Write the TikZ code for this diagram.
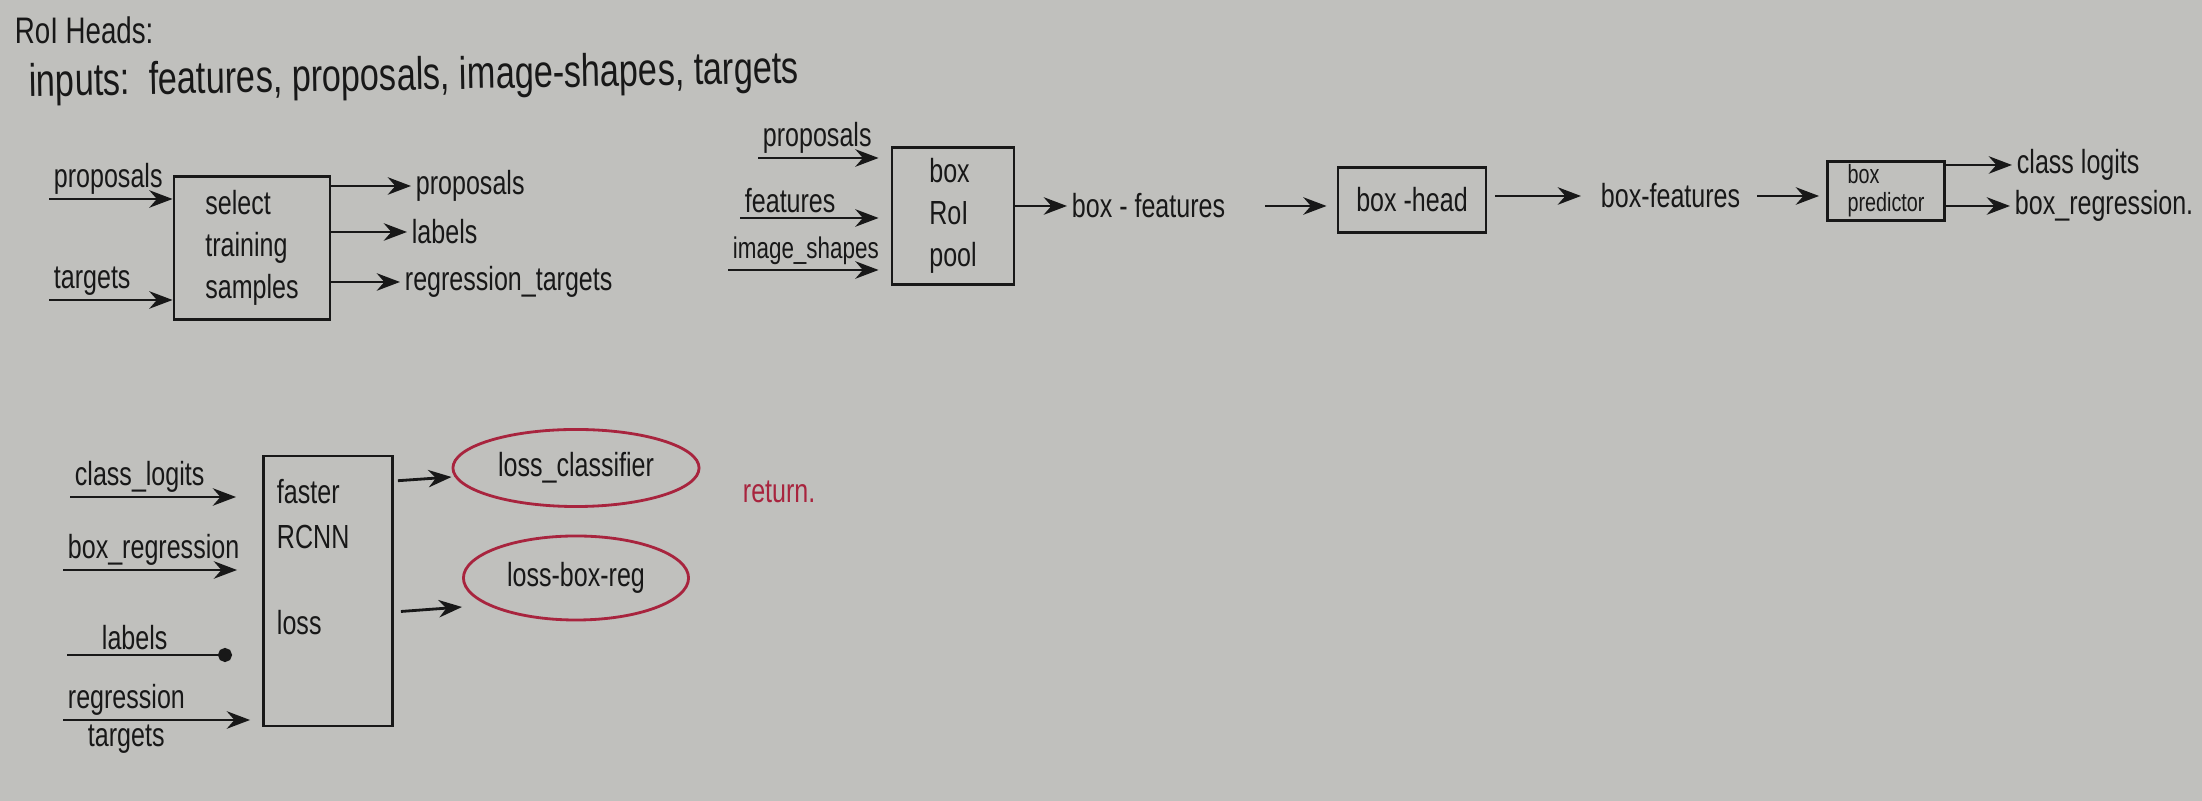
\documentclass[tikz,border=0pt]{standalone}
\usepackage{fontspec}
\setmainfont{Liberation Sans}[FakeStretch=0.75]
\usetikzlibrary{arrows.meta,shapes.geometric}

\definecolor{board}{RGB}{192,192,189}
\definecolor{ink}{RGB}{24,24,24}
\definecolor{inkred}{RGB}{168,36,62}

\tikzset{
    blk/.style={draw, thick, align=left, inner sep=3pt},
    lbl/.style={inner sep=1pt},
    lossbubble/.style={ellipse, draw=inkred, thick, text=ink, inner sep=0pt},
}

\begin{document}
\begin{tikzpicture}[x=0.01cm, y=-0.01cm, >=Stealth, thick, color=ink,
    font=\fontsize{9.5}{12}\selectfont]
    \fill[board] (0,0) rectangle (2202,801);
    \useasboundingbox (0,0) rectangle (2202,801);

    % heading
    \node[lbl, anchor=west, font=\fontsize{10.5}{13}\selectfont] (title) at (10,30) {RoI Heads:};
    \node[lbl, rotate=1, font=\fontsize{13}{15}\selectfont] (inputs) at (414,78)
        {inputs:\ \ features, proposals, image-shapes, targets};

    % select training samples
    \node[blk, minimum width=1.56cm, minimum height=1.43cm] (sel) at (252,248)
        {select\\training\\samples};
    \coordinate (sel-a) at (49,199);
    \coordinate (sel-b) at (49,300);
    \node[lbl, above right] (sel-prop) at (sel-a) {proposals};
    \node[lbl, above right] (sel-tgt) at (sel-b) {targets};
    \draw[->] (sel-a) -- (sel-a -| sel.west);
    \draw[->] (sel-b) -- (sel-b -| sel.west);
    \node[lbl, anchor=west] (out-prop) at (411,186) {proposals};
    \node[lbl, anchor=west] (out-lab) at (407,232) {labels};
    \node[lbl, anchor=west] (out-reg) at (400,282) {regression\_targets};
    \draw[->] (out-prop.west -| sel.east) -- (out-prop.west);
    \draw[->] (out-lab.west -| sel.east) -- (out-lab.west);
    \draw[->] (out-reg.west -| sel.east) -- (out-reg.west);

    % box roi pool
    \node[blk, minimum width=1.22cm, minimum height=1.37cm] (roi) at (953,216)
        {box\\RoI\\pool};
    \coordinate (roi-a) at (758,158);
    \coordinate (roi-b) at (740,218);
    \coordinate (roi-c) at (728,270);
    \node[lbl, above right] (roi-prop) at (roi-a) {proposals};
    \node[lbl, above right] (roi-feat) at (roi-b) {features};
    \node[lbl, above right, font=\fontsize{8.5}{10}\selectfont] (roi-img) at (roi-c) {image\_shapes};
    \draw[->, shorten >=0.12cm] (roi-a) -- (roi-a -| roi.west);
    \draw[->, shorten >=0.12cm] (roi-b) -- (roi-b -| roi.west);
    \draw[->, shorten >=0.12cm] (roi-c) -- (roi-c -| roi.west);
    \node[lbl, anchor=west] (feat1) at (1067,206) {box - features};
    \draw[->] (feat1.west -| roi.east) -- (feat1.west);

    % box head
    \node[blk, minimum width=1.48cm, minimum height=0.65cm] (head) at (1412,200) {box -head};
    \draw[->, shorten <=0.35cm, shorten >=0.1cm] (feat1.east) -- (feat1.east -| head.west);
    \node[lbl, anchor=west] (feat2) at (1596,196) {box-features};
    \draw[->, shorten <=0.08cm, shorten >=0.15cm] (head.east |- feat2.west) -- (feat2.west);

    % box predictor
    \node[blk, minimum width=1.17cm, minimum height=0.5cm, inner sep=1pt,
        font=\fontsize{7.5}{8}\selectfont] (pred) at (1886,191) {box\\predictor};
    \draw[->, shorten <=0.12cm, shorten >=0.07cm] (feat2.east) -- (feat2.east -| pred.west);
    \node[lbl, anchor=west] (cls) at (2012,165) {class logits};
    \node[lbl, anchor=west] (bxr) at (2010,206) {box\_regression.};
    \draw[->] (cls.west -| pred.east) -- (cls.west);
    \draw[->] (bxr.west -| pred.east) -- (bxr.west);

    % faster rcnn loss
    \node[blk, minimum width=1.29cm, minimum height=2.70cm] (loss) at (328,591) {};
    \node[lbl, anchor=north west, align=left, font=\fontsize{9.5}{12.8}\selectfont] (loss-txt)
        at ([xshift=0.1cm, yshift=-0.2cm]loss.north west) {faster\\RCNN\\[0.41cm]loss};
    \coordinate (loss-a) at (70,497);
    \coordinate (loss-b) at (63,570);
    \coordinate (loss-c) at (67,655);
    \coordinate (loss-d) at (63,720);
    \node[lbl, above right] (loss-cls) at (loss-a) {class\_logits};
    \node[lbl, above right] (loss-box) at (loss-b) {box\_regression};
    \node[lbl, above right, xshift=0.3cm] (loss-lab) at (loss-c) {labels};
    \node[lbl, above right] (loss-reg) at (loss-d) {regression};
    \node[lbl, below right, xshift=0.2cm] (loss-tgt) at (loss-d) {targets};
    \draw[->, shorten >=0.26cm] (loss-a) -- (loss-a -| loss.west);
    \draw[->, shorten >=0.25cm] (loss-b) -- (loss-b -| loss.west);
    \draw[-{Circle[length=4pt]}, shorten >=0.3cm] (loss-c) -- (loss-c -| loss.west);
    \draw[->, shorten >=0.12cm] (loss-d) -- (loss-d -| loss.west);

    \node[lossbubble, minimum width=2.46cm, minimum height=0.77cm] (lcls) at (576,468) {loss\_classifier};
    \node[lossbubble, minimum width=2.25cm, minimum height=0.84cm] (lbox) at (576,578) {loss-box-reg};
    \draw[->, shorten <=0.04cm] (loss.east |- 0,481) -- (lcls.west |- 0,477);
    \draw[->, shorten <=0.07cm] (loss.east |- 0,612) -- (lbox.west |- 0,607);

    \node[lbl, anchor=west, text=inkred] (ret) at (738,492) {return.};
\end{tikzpicture}
\end{document}
